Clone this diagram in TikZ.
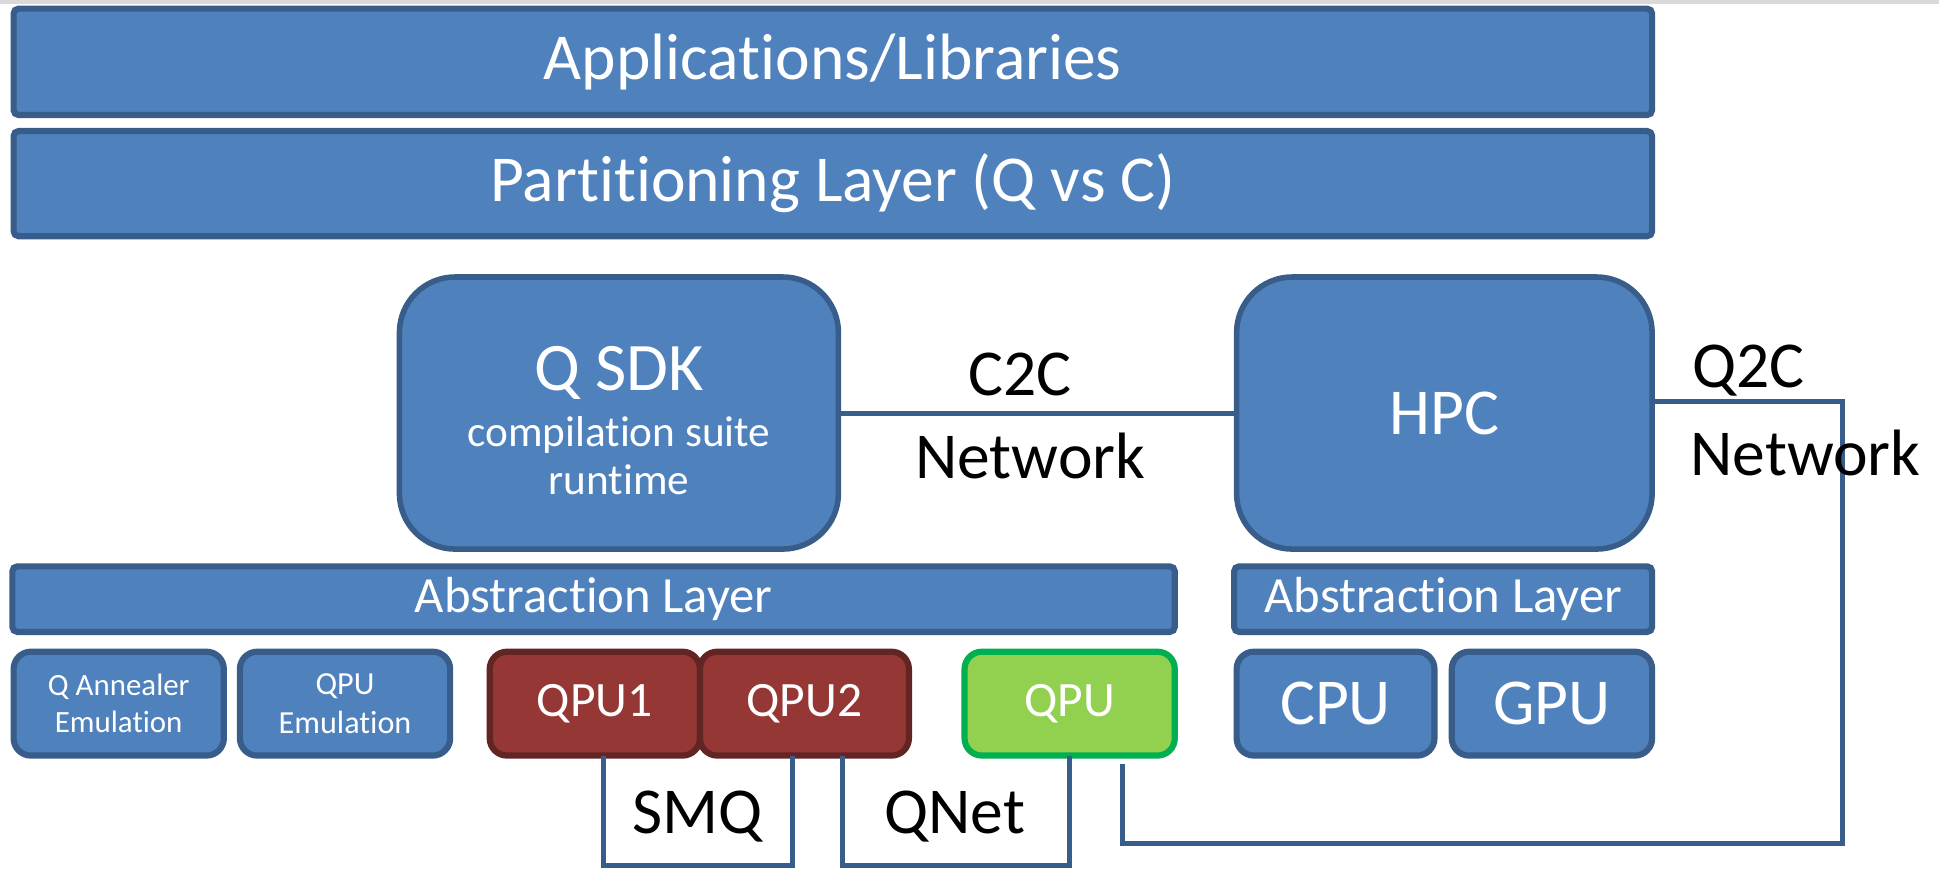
\documentclass[tikz,border=0pt]{standalone}
\usepackage{fontspec}
\setmainfont[Ligatures=NoCommon]{Carlito}
\usepackage{tikz}
\usetikzlibrary{positioning}
\definecolor{officeblue}{RGB}{79,129,189}
\definecolor{officeedge}{RGB}{56,93,138}
\definecolor{qpured}{RGB}{149,55,53}
\definecolor{qpurededge}{RGB}{99,37,35}
\definecolor{qpugreen}{RGB}{146,208,80}
\definecolor{qpugreenedge}{RGB}{0,176,80}
\tikzset{capa/.style={draw=officeedge, fill=officeblue, line width=5pt, text=white, inner sep=0pt, outer sep=0pt, rounded corners=4pt}}
\tikzset{bloque/.style={capa, line width=4.5pt, rounded corners=45pt}}
\tikzset{unidad/.style={capa, rounded corners=14pt, minimum width=170pt, minimum height=84pt}}
\tikzset{enlace/.style={draw=officeedge, line width=4pt}}
\tikzset{grande/.style={font=\fontsize{53}{60}\selectfont}}

\begin{document}
\begin{tikzpicture}[x=1pt, y=-1pt]
    \useasboundingbox (0,0) rectangle (1568,704);
    \fill[gray!30] (0,0) rectangle (1568,3);

    \node[capa, grande, minimum width=1325pt, minimum height=86pt] (apps) at (673.5,50) {Applications/Libraries};
    \node[capa, grande, minimum width=1325pt, minimum height=85pt, below=13pt of apps] (part) {Partitioning Layer (Q vs C)};

    \node[bloque, minimum width=355pt, minimum height=220pt] (qsdk) at (500.5,334) {};
    \node[text=white, align=center, font=\fontsize{35}{39}\selectfont] (qsdktxt) at (500.5,340) {{\fontsize{55}{60}\selectfont Q SDK}\\[6pt]compilation suite\\runtime};
    \node[bloque, grande, minimum width=336pt, minimum height=220pt] (hpc) at (1168,334) {HPC};

    \node[capa, font=\fontsize{41}{48}\selectfont, minimum width=940pt, minimum height=53pt] (absq) at (480,484.5) {Abstraction Layer};
    \node[capa, font=\fontsize{41}{48}\selectfont, minimum width=338pt, minimum height=53pt] (absc) at (1167,484.5) {Abstraction Layer};

    \node[unidad, align=center, font=\fontsize{25}{30}\selectfont] (qann) at (96,569) {Q Annealer\\Emulation};
    \node[unidad, align=center, font=\fontsize{26}{31}\selectfont] (qpuemu) at (279,569) {QPU\\Emulation};
    \node[unidad, fill=qpured, draw=qpurededge, font=\fontsize{40}{48}\selectfont] (qpu1) at (481,569) {QPU1};
    \node[unidad, fill=qpured, draw=qpurededge, font=\fontsize{40}{48}\selectfont, minimum width=169pt, right=0pt of qpu1] (qpu2) {QPU2};
    \node[unidad, fill=qpugreen, draw=qpugreenedge, font=\fontsize{40}{48}\selectfont] (qpu) at (865,569) {QPU};
    \node[unidad, grande, minimum width=160pt] (cpu) at (1080,569) {CPU};
    \node[unidad, grande, minimum width=162pt] (gpu) at (1255,569) {GPU};

    % networks
    \draw[enlace] (qsdk.east) -- (hpc.west);
    \node[grande] (c2c) at (825,303) {C2C};
    \node[grande] (c2cnet) at (833,369) {Network};

    \coordinate (q2cturn) at (1490,682);
    \draw[enlace] ([yshift=9pt]hpc.east) -| (q2cturn) -| ([xshift=43pt,yshift=-7pt]qpu.south);
    \node[grande] (q2c) at (1414,300) {Q2C};
    \node[grande] (q2cnet) at (1460,366) {Network};

    \draw[enlace] ([xshift=7pt]qpu1.south) -- ++(0,89) -| ([xshift=-9.5pt]qpu2.south);
    \node[grande] (smq) at (564,660) {SMQ};
    \draw[enlace] ([xshift=30.5pt]qpu2.south) -- ++(0,89) -| (qpu.south);
    \node[grande] (qnet) at (772,660) {QNet};
\end{tikzpicture}
\end{document}
